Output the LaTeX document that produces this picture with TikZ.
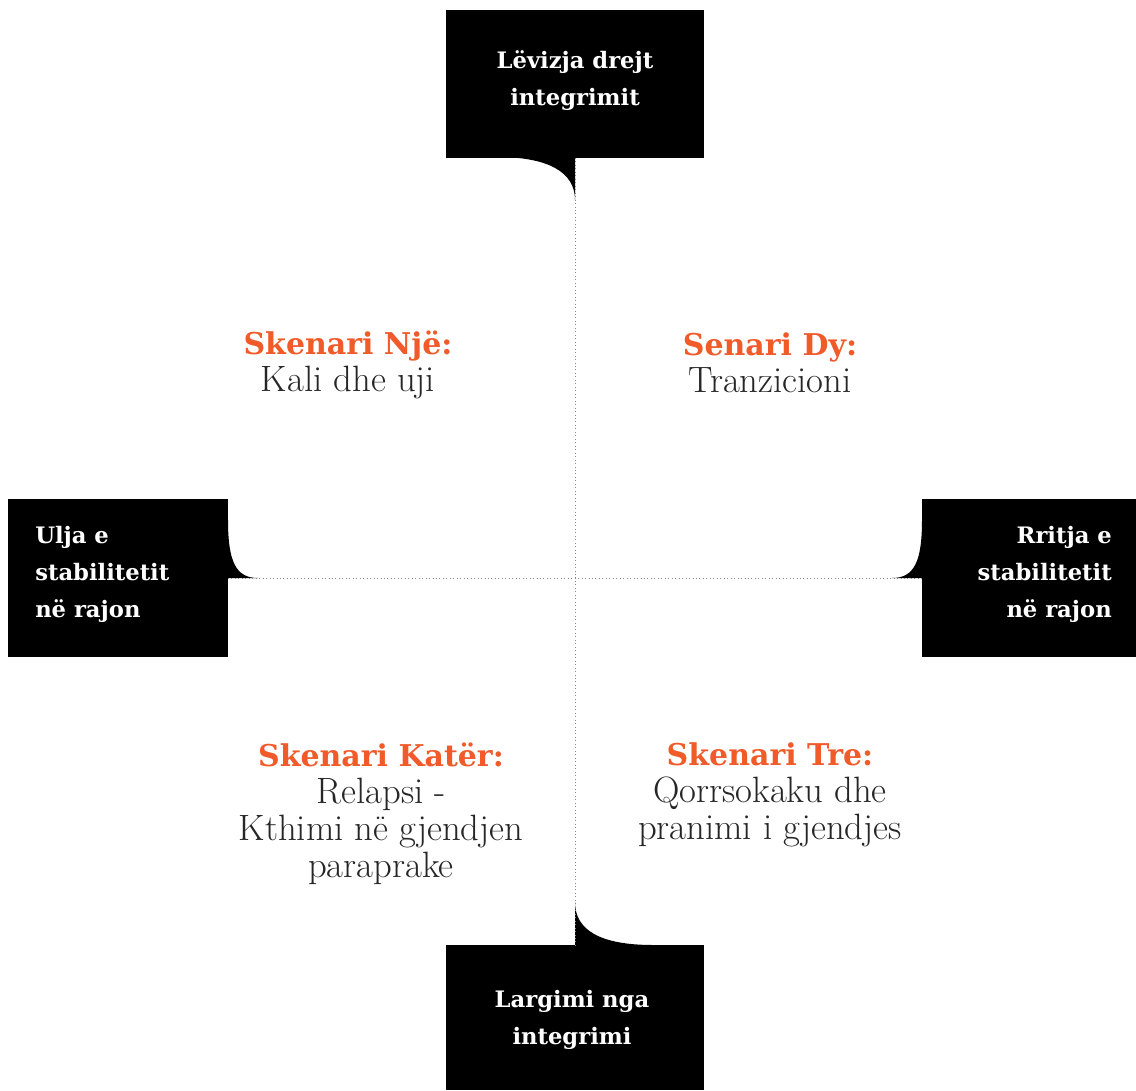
\documentclass[tikz,border=0pt]{standalone}
\usepackage{fontspec}
\newfontfamily\slabfont{DejaVu Serif}
\definecolor{orng}{HTML}{F15A29}
\definecolor{axisgray}{HTML}{888888}
\newcommand{\hd}{\slabfont\bfseries\fontsize{22.5}{27.75}\selectfont\color{orng}}
\newcommand{\lt}{\rmfamily\fontsize{27.5}{27.75}\selectfont\color{black!85}}
\begin{document}
\begin{tikzpicture}[x=0.75pt,y=-0.75pt,
  blackbox/.style={fill=black,draw=none,inner sep=0pt},
  boxtext/.style={text=white,font=\slabfont\bfseries\fontsize{17}{27.75}\selectfont,inner sep=0pt},
  scen/.style={align=center,inner sep=0pt,font=\fontsize{22}{27.75}\selectfont},
  axis/.style={axisgray,line width=0.6pt,dotted}]
\useasboundingbox (0,0) rectangle (1136,1090);
\fill[white] (0,0) rectangle (1136,1090);
% boxes
\node[blackbox,minimum width=193.5pt,minimum height=111pt] (top) at (575,84) {};
\node[blackbox,minimum width=165pt,minimum height=118.5pt] (left) at (118,578) {};
\node[blackbox,minimum width=160.5pt,minimum height=118.5pt] (right) at (1029,578) {};
\node[blackbox,minimum width=193.5pt,minimum height=108.75pt] (bottom) at (575,1017.5) {};
% tabs
\fill (497,157) .. controls (548,157) and (575,172) .. (575,200) -- (575,157) -- cycle;
\fill (228,520) .. controls (228,562) and (236,578) .. (258,578) -- (228,578) -- cycle;
\fill (922,520) .. controls (922,562) and (914,578) .. (892,578) -- (922,578) -- cycle;
\fill (575,902) .. controls (575,930) and (600,945) .. (653,945) -- (575,945) -- cycle;
% axes
\coordinate (vt) at (575,158);
\coordinate (vb) at (575,945);
\coordinate (hl) at (228,578);
\coordinate (hr) at (922,578);
\draw[axis] (vt) -- (vb);
\draw[axis] (hl) -- (hr);
% box texts
\node[boxtext,align=center] (toptext) at (575,81) {Lëvizja drejt\\integrimit};
\node[boxtext,align=left,anchor=west] (lefttext) at (35,574) {Ulja e\\stabilitetit\\në rajon};
\node[boxtext,align=right,anchor=east] (righttext) at (1112,574) {Rritja e\\stabilitetit\\në rajon};
\node[boxtext,align=center] (bottomtext) at (572,1020) {Largimi nga\\integrimi};
% scenarios
\node[scen] (s1) at (348,365) {\hd Skenari Një:\\\lt Kali dhe uji};
\node[scen] (s2) at (770,363) {\hd Senari Dy:\\\lt Tranzicioni};
\node[scen] (s4) at (381,814) {\hd Skenari Katër:\\\lt Relapsi -\\\lt Kthimi në gjendjen\\\lt paraprake};
\node[scen] (s3) at (770,795) {\hd Skenari Tre:\\\lt Qorrsokaku dhe\\\lt pranimi i gjendjes};
\end{tikzpicture}
\end{document}
